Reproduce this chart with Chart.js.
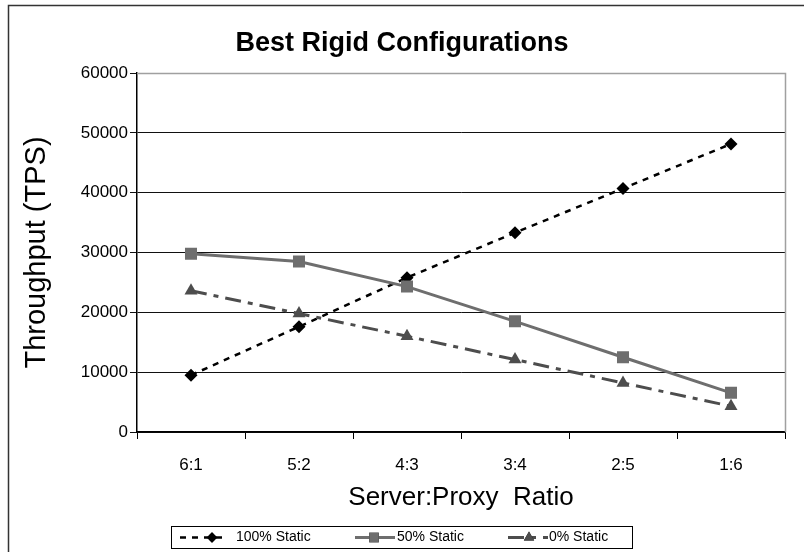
<!DOCTYPE html>
<html>
<head>
<meta charset="utf-8">
<script src="https://cdn.jsdelivr.net/npm/chart.js@4.4.1/dist/chart.umd.min.js"></script>
<style>
  html, body { margin: 0; padding: 0; background: #fff; }
  #wrap { width: 804px; height: 552px; }
</style>
</head>
<body>
<div id="wrap"><canvas id="rigidChart" width="804" height="552"></canvas></div>
<script>
const ratios = ['6:1', '5:2', '4:3', '3:4', '2:5', '1:6'];
const static100 = [9500, 17600, 25800, 33300, 40700, 48150];
const static50 = [29800, 28500, 24300, 18500, 12500, 6550];
const static0 = [23600, 19800, 16000, 12100, 8200, 4300];
const yTicks = [0, 10000, 20000, 30000, 40000, 50000, 60000];

const FONT = "'Liberation Sans', Arial, sans-serif";

// frame, title and the boxed legend are painted by hand
const decorPlugin = {
    id: 'decor',
    beforeDatasetsDraw(chart) {
        const { ctx, chartArea: a } = chart;
        ctx.save();
        ctx.strokeStyle = '#a0a0a0';
        ctx.lineWidth = 1.5;
        ctx.beginPath();
        ctx.moveTo(a.left, a.top + 0.5);
        ctx.lineTo(a.right + 0.5, a.top + 0.5);
        ctx.lineTo(a.right + 0.5, a.bottom);
        ctx.stroke();
        ctx.restore();
    },
    afterDraw(chart) {
        const ctx = chart.ctx;
        ctx.save();
        // outer border
        ctx.strokeStyle = '#333';
        ctx.lineWidth = 1.5;
        ctx.strokeRect(8.5, 5.5, 810, 560);

        // title
        ctx.fillStyle = '#000';
        ctx.font = 'bold 27px ' + FONT;
        ctx.textAlign = 'center';
        ctx.textBaseline = 'middle';
        ctx.fillText('Best Rigid Configurations', 402, 44);

        // legend box
        ctx.strokeStyle = '#000';
        ctx.lineWidth = 1;
        ctx.strokeRect(171.5, 526.5, 461, 22);
        const items = [
            { line: [180, 228], mark: 212, text: 236 },
            { line: [355, 395], mark: 374, text: 397 },
            { line: [508, 548], mark: 529, text: 549 }
        ];
        const ly = 537.5;
        chart.data.datasets.forEach((ds, i) => {
            const it = items[i];
            ctx.save();
            ctx.strokeStyle = ds.borderColor;
            ctx.lineWidth = ds.borderWidth;
            ctx.setLineDash(ds.borderDash || []);
            ctx.beginPath();
            ctx.moveTo(it.line[0], ly);
            ctx.lineTo(it.line[1], ly);
            ctx.stroke();
            ctx.restore();
            Chart.helpers.drawPoint(ctx, {
                pointStyle: ds.pointStyle,
                radius: ds.pointRadius * 0.8,
                rotation: 0,
                borderWidth: 0
            }, it.mark, ly);
            ctx.fillStyle = ds.pointBackgroundColor;
            ctx.fill();
            ctx.fillStyle = '#000';
            ctx.font = '14px ' + FONT;
            ctx.textAlign = 'left';
            ctx.textBaseline = 'middle';
            ctx.fillText(ds.label, it.text, ly);
        });
        ctx.restore();
    }
};

const ctx = document.getElementById('rigidChart').getContext('2d');
new Chart(ctx, {
    type: 'line',
    data: {
        labels: ratios,
        datasets: [
            {
                label: '100% Static',
                data: static100,
                borderColor: '#000',
                borderWidth: 2.5,
                borderDash: [6, 6],
                pointStyle: 'rectRot',
                pointRadius: 6.5,
                pointBackgroundColor: '#000',
                pointBorderWidth: 0,
                order: 3
            },
            {
                label: '50% Static',
                data: static50,
                borderColor: '#6e6e6e',
                borderWidth: 3,
                pointStyle: 'rect',
                pointRadius: 8.5,
                pointBackgroundColor: '#6e6e6e',
                pointBorderWidth: 0,
                order: 1
            },
            {
                label: '0% Static',
                data: static0,
                borderColor: '#4d4d4d',
                borderWidth: 3,
                borderDash: [16, 7, 5, 7],
                pointStyle: 'triangle',
                pointRadius: 7.5,
                pointBackgroundColor: '#4d4d4d',
                pointBorderWidth: 0,
                order: 2
            }
        ]
    },
    options: {
        responsive: false,
        animation: false,
        maintainAspectRatio: false,
        layout: { padding: { top: 73, right: 19, bottom: 36, left: 0 } },
        plugins: {
            legend: { display: false },
            title: { display: false },
            tooltip: { enabled: false }
        },
        scales: {
            x: {
                offset: true,
                afterFit: (scale) => { scale.height = 84; },
                grid: {
                    offset: true,
                    drawOnChartArea: false,
                    drawTicks: true,
                    tickLength: 7,
                    color: '#000'
                },
                border: { display: true, color: '#000', width: 1.5 },
                ticks: {
                    color: '#000',
                    padding: 16,
                    font: { family: FONT, size: 17 }
                },
                title: {
                    display: true,
                    text: 'Server:Proxy  Ratio',
                    color: '#000',
                    padding: { top: 0, bottom: 3 },
                    font: { family: FONT, size: 26 }
                }
            },
            y: {
                min: 0,
                max: 60000,
                afterFit: (scale) => { scale.width = 137; },
                afterBuildTicks: (scale) => { scale.ticks = yTicks.map(v => ({ value: v })); },
                grid: {
                    color: '#111',
                    lineWidth: 1,
                    drawTicks: true,
                    tickLength: 7
                },
                border: { display: true, color: '#000', width: 1.5 },
                ticks: {
                    color: '#000',
                    padding: 2,
                    font: { family: FONT, size: 17 },
                    callback: (v) => String(v)
                },
                title: {
                    display: true,
                    text: 'Throughput (TPS)',
                    color: '#000',
                    padding: { top: 20, bottom: 0 },
                    font: { family: FONT, size: 29 }
                }
            }
        }
    },
    plugins: [decorPlugin]
});
</script>
</body>
</html>
